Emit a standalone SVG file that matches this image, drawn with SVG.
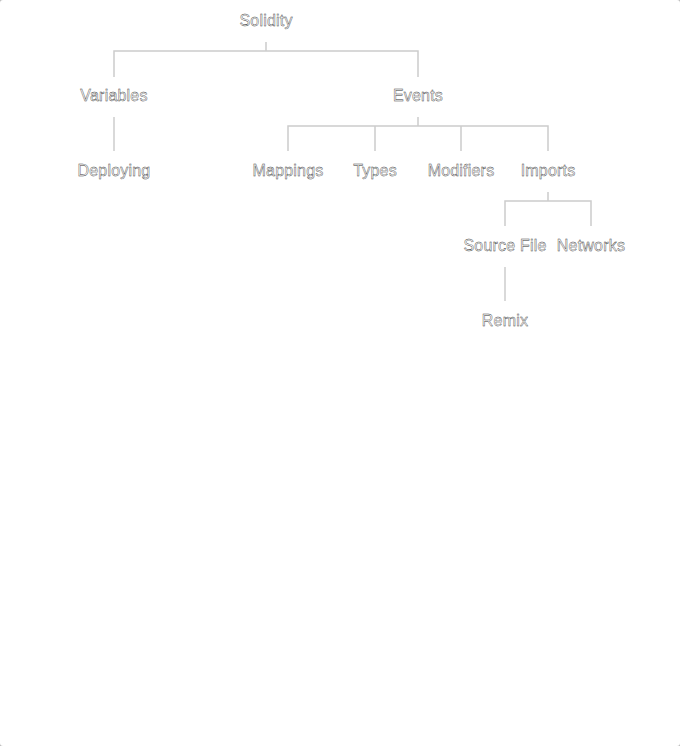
<svg xmlns="http://www.w3.org/2000/svg" width="680" height="746" viewBox="0 0 680 746">
<style>
.lbl{font-family:"Liberation Sans",Arial,sans-serif;font-size:16px;fill:#fff;stroke:#333;stroke-width:0.4;text-anchor:middle;letter-spacing:0.2px}
.ln{fill:none;stroke:#ccc;stroke-width:1.5}
</style>
<rect x="0" y="0" width="680" height="746" fill="#bbb"/>
<rect x="0" y="0" width="680" height="746" rx="3" fill="#fff"/>
<g id="connectors">
<path class="ln" d="M266 42V51M114 77V51H418V77"/>
<path class="ln" d="M114 117V151"/>
<path class="ln" d="M418 117V126M288 151V126H548V151M375 126V151M461 126V151"/>
<path class="ln" d="M548 192V201M505 226V201H591V226"/>
<path class="ln" d="M505 267V301"/>
</g>
<g id="n-solidity"><text class="lbl" x="266" y="26">Solidity</text></g>
<g id="n-variables"><text class="lbl" x="114" y="101">Variables</text></g>
<g id="n-events"><text class="lbl" x="418" y="101">Events</text></g>
<g id="n-deploying"><text class="lbl" x="114" y="176">Deploying</text></g>
<g id="n-mappings"><text class="lbl" x="288" y="176">Mappings</text></g>
<g id="n-types"><text class="lbl" x="375" y="176">Types</text></g>
<g id="n-modifiers"><text class="lbl" x="461" y="176">Modifiers</text></g>
<g id="n-imports"><text class="lbl" x="548" y="176">Imports</text></g>
<g id="n-sourcefile"><text class="lbl" x="505" y="251">Source File</text></g>
<g id="n-networks"><text class="lbl" x="591" y="251">Networks</text></g>
<g id="n-remix"><text class="lbl" x="505" y="326">Remix</text></g>
</svg>
